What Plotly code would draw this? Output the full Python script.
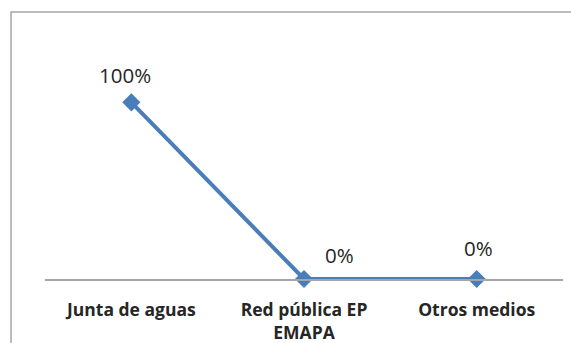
import plotly.graph_objects as go

# Source of water supply, share of households
categories = ["Junta de aguas", "Red pública EP EMAPA", "Otros medios"]
tick_labels = ["Junta de aguas", "Red pública EP<br>EMAPA", "Otros medios"]
shares = [1.00, 0.00, 0.00]
value_labels = ["100%", "0%", "0%"]

# pixel offsets of each data label from its point
label_dx = [-6, 35, 2]
label_dy = [27, 24, 31]

line_blue = "#4a7ebb"
grey = "#a6a6a6"
font_family = "'Open Sans', Arial, sans-serif"

fig = go.Figure()
fig.add_trace(go.Scatter(
    x=categories,
    y=shares,
    mode="lines+markers",
    line=dict(color=line_blue, width=4),
    marker=dict(symbol="diamond", size=14, color=line_blue),
    cliponaxis=False,
    hoverinfo="skip",
))

for cat, val, txt, dx, dy in zip(categories, shares, value_labels, label_dx, label_dy):
    fig.add_annotation(
        x=cat, y=val, text=txt, showarrow=False,
        xshift=dx, yshift=dy,
        font=dict(family=font_family, size=20.5, color="#262626"),
    )

# chart frame
fig.add_shape(
    type="rect", xref="paper", yref="paper",
    x0=-0.0656, x1=1.1, y0=-0.6, y1=1.259,
    line=dict(color=grey, width=1.5), fillcolor="rgba(0,0,0,0)",
    layer="below",
)

fig.update_layout(
    width=571, height=343,
    margin=dict(l=45, r=8, t=67, b=64, autoexpand=False),
    paper_bgcolor="white", plot_bgcolor="white",
    showlegend=False,
    font=dict(family=font_family),
    xaxis=dict(
        type="category",
        tickvals=categories,
        ticktext=tick_labels,
        showgrid=False,
        zeroline=False,
        showline=True, linecolor=grey, linewidth=1.5,
        ticks="", ticklabelstandoff=14,
        automargin=False,
        tickfont=dict(family=font_family, size=17.5, color="#262626", weight="bold"),
        range=[-0.5, 2.5],
        fixedrange=True,
    ),
    yaxis=dict(
        range=[0, 1.2],
        showgrid=False, zeroline=False, showline=False,
        showticklabels=False, ticks="",
        automargin=False,
        fixedrange=True,
    ),
)

fig.write_html("out.html")
